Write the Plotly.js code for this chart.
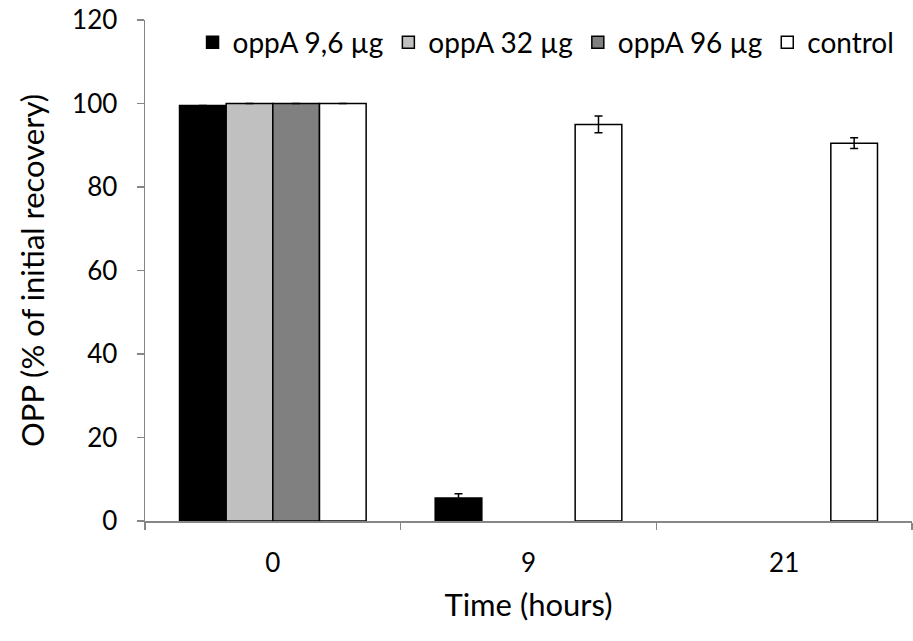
<!DOCTYPE html>
<html>
<head>
<meta charset="utf-8">
<script src="https://cdn.plot.ly/plotly-3.0.1.min.js"></script>
<style>html,body{margin:0;padding:0;background:#fff;}#chart{width:913px;height:641px;}</style>
</head>
<body>
<div id="chart"></div>
<script>
const categories = ["0", "9", "21"];
const seriesNames = ["oppA 9,6 µg", "oppA 32 µg", "oppA 96 µg", "control"];
// null = no visible bar at that time point
const oppA9_6 = [99.5, 5.5, null];
const oppA32 = [100, null, null];
const oppA96 = [100, null, null];
const control = [100, 95, 90.5];
const errOppA9_6 = [0, 1, 0];
const errOppA32 = [0, 0, 0];
const errOppA96 = [0, 0, 0];
const errControl = [0, 2, 1.3];
const yTicks = [0, 20, 40, 60, 80, 100, 120];

const fills = ["#000000", "#c0c0c0", "#808080", "#ffffff"];
const values = [oppA9_6, oppA32, oppA96, control];
const errs = [errOppA9_6, errOppA32, errOppA96, errControl];

const FONT = "Lato, 'Open Sans', sans-serif";

const data = values.map((v, i) => ({
  type: "bar",
  name: seriesNames[i],
  x: categories,
  y: v,
  marker: {color: fills[i], line: {color: "#000000", width: 1.5}},
  error_y: {type: "data", array: errs[i], visible: true, color: "#000000", thickness: 1.5, width: 4}
}));

const layout = {
  width: 913, height: 641,
  margin: {l: 145, r: 1, t: 20, b: 120},
  paper_bgcolor: "#ffffff", plot_bgcolor: "#ffffff",
  font: {family: FONT, size: 26, color: "#000000"},
  barmode: "group",
  bargap: 0.27,
  bargroupgap: 0,
  showlegend: true,
  legend: {orientation: "h", x: 0.062, y: 1.005, xanchor: "left", yanchor: "top",
           font: {family: FONT, size: 28}, bgcolor: "rgba(0,0,0,0)", itemwidth: 30, tracegroupgap: 0},
  xaxis: {
    type: "category",
    tickson: "boundaries",
    ticks: "outside", ticklen: 7, tickcolor: "#868686", tickwidth: 1.5,
    showline: true, linecolor: "#868686", linewidth: 1.5,
    showgrid: false, zeroline: false,
    tickfont: {family: FONT, size: 26},
    ticklabelstandoff: 18,
    title: {text: "Time (hours)", font: {family: FONT, size: 31}, standoff: 17},
    automargin: false
  },
  yaxis: {
    range: [0, 120],
    tickvals: yTicks,
    ticks: "outside", ticklen: 7, tickcolor: "#868686", tickwidth: 1.5,
    showline: true, linecolor: "#868686", linewidth: 1.5,
    showgrid: false, zeroline: false,
    tickfont: {family: FONT, size: 26},
    ticklabelstandoff: 14,
    title: {text: "OPP (% of initial recovery)", font: {family: FONT, size: 31}, standoff: 18},
    automargin: false
  }
};

Plotly.newPlot("chart", data, layout, {displayModeBar: false, staticPlot: true});
</script>
</body>
</html>
